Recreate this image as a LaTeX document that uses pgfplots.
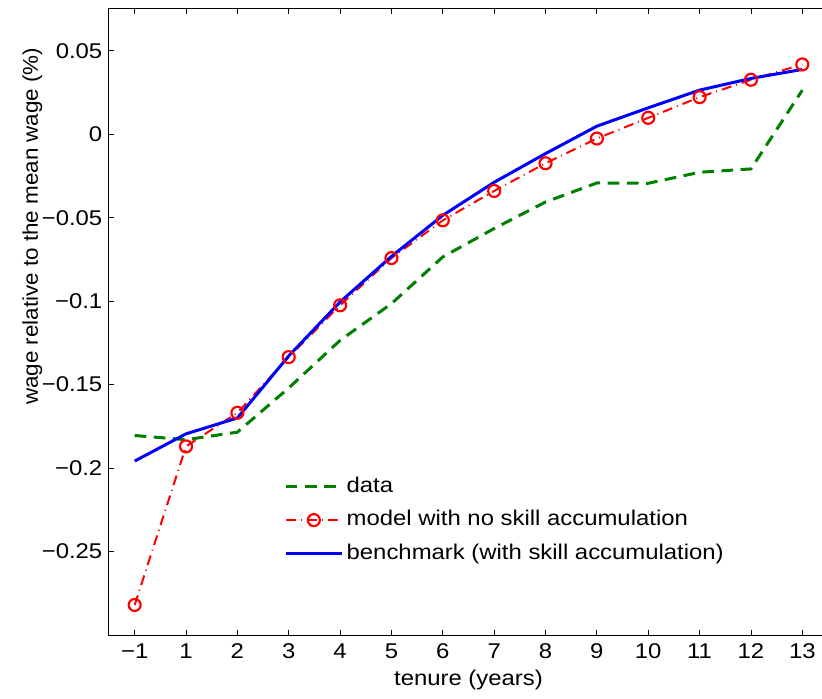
\documentclass[border=0pt]{standalone}
\usepackage{pgfplots}
\pgfplotsset{compat=1.18}
\usepackage{fontspec}
\setmainfont{Liberation Sans}[FakeStretch=1.12]
\newfontfamily\ylfont{Liberation Sans}[FakeStretch=1.05]
\newcommand{\lblfont}{\fontsize{12.8pt}{15pt}\selectfont}
\definecolor{mgreen}{rgb}{0,0.5,0}
\begin{document}
\begin{tikzpicture}
\begin{axis}[
  scale only axis,
  width=431.4pt, height=375.6pt,
  xmin=-0.5, xmax=13.5,
  ymin=-0.3, ymax=0.075,
  xtick={0,1,2,3,4,5,6,7,8,9,10,11,12,13},
  xticklabels={−1,1,2,3,4,5,6,7,8,9,10,11,12,13},
  ytick={-0.25,-0.2,-0.15,-0.1,-0.05,0,0.05},
  yticklabels={−0.25,−0.2,−0.15,−0.1,−0.05,0,0.05},
  tick align=inside,
  major tick length=3pt,
  tick style={black, line width=0.5pt},
  axis line style={line width=0.6pt},
  tick label style={font=\lblfont},
  xticklabel style={yshift=-1.5pt},
  yticklabel style={xshift=-0.5pt},
  xlabel={tenure (years)},
  ylabel={wage relative to the mean wage (\%)},
  every axis x label/.style={at={([yshift=-30pt]axis description cs:0.5,0)}, anchor=base, font=\lblfont},
  every axis y label/.style={at={([xshift=-42.6pt]axis description cs:0,0.653)}, rotate=90, anchor=base, font=\ylfont\lblfont},
  legend style={at={(0.2434,0.2586)}, anchor=north west, draw=none, fill=none,
    inner sep=0pt, row sep=4pt, font=\lblfont,
    nodes={inner sep=2pt, text height=9.5pt, text depth=2.5pt}},
  legend cell align=left,
  legend image code/.code={%
    \draw[mark repeat=2,mark phase=2,#1] plot coordinates {(0pt,0pt) (16.8pt,0pt) (33.6pt,0pt)};},
]
\addplot[mgreen, line width=1.8pt, dash pattern=on 7pt off 4.5pt] coordinates {
(0,-0.1805) (1,-0.183) (2,-0.1785) (3,-0.152) (4,-0.1235) (5,-0.1015)
(6,-0.0735) (7,-0.0565) (8,-0.0406) (9,-0.0292) (10,-0.0294) (11,-0.0228)
(12,-0.0208) (13,0.0264)};
\addlegendentry{data}
\addplot[red, line width=1.2pt, dash pattern=on 6pt off 3pt on 0.6pt off 3pt,
  mark=o, mark size=3.6pt, mark options={solid, fill=white, line width=1.3pt}] coordinates {
(0,-0.282) (1,-0.187) (2,-0.1669) (3,-0.1335) (4,-0.1025) (5,-0.0742)
(6,-0.0516) (7,-0.034) (8,-0.0174) (9,-0.0026) (10,0.0098) (11,0.0222)
(12,0.0326) (13,0.0418)};
\addlegendentry{model with no skill accumulation}
\addplot[blue, line width=1.8pt] coordinates {
(0,-0.1958) (1,-0.1795) (2,-0.170) (3,-0.1328) (4,-0.1005) (5,-0.0732)
(6,-0.0486) (7,-0.0288) (8,-0.0116) (9,0.0048) (10,0.0158) (11,0.0264)
(12,0.0334) (13,0.0388)};
\addlegendentry{benchmark (with skill accumulation)}
\end{axis}
\pgfresetboundingbox
\path[use as bounding box] ([xshift=-65.4pt,yshift=-37.8pt]current axis.south west)
  rectangle ([xshift=-3.6pt,yshift=5.4pt]current axis.north east);
\end{tikzpicture}
\end{document}
